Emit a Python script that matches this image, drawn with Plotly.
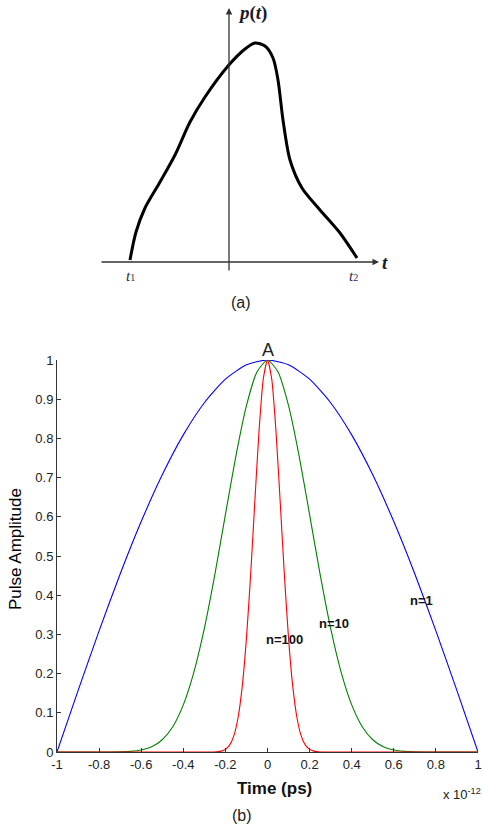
import plotly.graph_objects as go

# ---------- data for panel (b): pulse shapes (time in units of 1e-12 s) ----------
t_n1 = [-1.0, -0.9, -0.8, -0.7, -0.6, -0.5, -0.4, -0.3, -0.2, -0.1, 0.0,
        0.1, 0.2, 0.3, 0.4, 0.5, 0.6, 0.7, 0.8, 0.9, 1.0]
p_n1 = [0.0, 0.1564, 0.3090, 0.4540, 0.5878, 0.7071, 0.8090, 0.8910, 0.9511, 0.9877, 1.0,
        0.9877, 0.9511, 0.8910, 0.8090, 0.7071, 0.5878, 0.4540, 0.3090, 0.1564, 0.0]

t_n10 = [-1.0, -0.8, -0.7, -0.65, -0.6, -0.55, -0.5, -0.45, -0.4, -0.35, -0.3, -0.25, -0.2,
         -0.15, -0.1, -0.05, 0.0, 0.05, 0.1, 0.15, 0.2, 0.25, 0.3, 0.35, 0.4, 0.45, 0.5,
         0.55, 0.6, 0.65, 0.7, 0.8, 1.0]
p_n10 = [0.0, 0.0, 0.0004, 0.0015, 0.0049, 0.0134, 0.0313, 0.0646, 0.1201, 0.2031, 0.3153,
         0.4531, 0.6057, 0.7556, 0.8836, 0.9696, 1.0, 0.9696, 0.8836, 0.7556, 0.6057, 0.4531,
         0.3153, 0.2031, 0.1201, 0.0646, 0.0313, 0.0134, 0.0049, 0.0015, 0.0004, 0.0, 0.0]

t_n100 = [-1.0, -0.3, -0.24, -0.22, -0.2, -0.18, -0.16, -0.14, -0.12, -0.1, -0.08, -0.06,
          -0.04, -0.02, 0.0, 0.02, 0.04, 0.06, 0.08, 0.1, 0.12, 0.14, 0.16, 0.18, 0.2, 0.22,
          0.24, 0.3, 1.0]
p_n100 = [0.0, 0.0, 0.0007, 0.0023, 0.0066, 0.0174, 0.0411, 0.0874, 0.1674, 0.2898, 0.4531,
          0.6410, 0.8208, 0.9518, 1.0, 0.9518, 0.8208, 0.6410, 0.4531, 0.2898, 0.1674, 0.0874,
          0.0411, 0.0174, 0.0066, 0.0023, 0.0007, 0.0, 0.0]

x_ticks = [-1, -0.8, -0.6, -0.4, -0.2, 0, 0.2, 0.4, 0.6, 0.8, 1]
x_ticklabels = ["-1", "-0.8", "-0.6", "-0.4", "-0.2", "0", "0.2", "0.4", "0.6", "0.8", "1"]
y_ticks = [0, 0.1, 0.2, 0.3, 0.4, 0.5, 0.6, 0.7, 0.8, 0.9, 1]
y_ticklabels = ["0", "0.1", "0.2", "0.3", "0.4", "0.5", "0.6", "0.7", "0.8", "0.9", "1"]

# ---------- data for panel (a): schematic pulse (drawing units) ----------
sketch_x = [130, 136, 145, 160, 175, 190, 205, 228, 245, 255, 265, 273, 278, 283,
            290, 302, 320, 340, 357]
sketch_y = [260, 232, 208, 182, 155, 122, 97, 66, 49, 43, 46, 58, 80, 120,
            160, 188, 210, 233, 258]

W, H = 483, 828
fig = go.Figure()

# panel (b) curves
fig.add_trace(go.Scatter(x=t_n1, y=p_n1, mode="lines", line=dict(color="#0000ff", width=1.1, shape="spline", smoothing=0.6)))
fig.add_trace(go.Scatter(x=t_n10, y=p_n10, mode="lines", line=dict(color="#008000", width=1.1, shape="spline", smoothing=0.6)))
fig.add_trace(go.Scatter(x=t_n100, y=p_n100, mode="lines", line=dict(color="#ff0000", width=1.1, shape="spline", smoothing=0.6)))

# panel (a) curve (independent axes in drawing units)
fig.add_trace(go.Scatter(x=sketch_x, y=sketch_y, xaxis="x2", yaxis="y2", mode="lines",
                         line=dict(color="black", width=3, shape="spline", smoothing=0.8)))

sans = "Liberation Sans, Arial"
serif = "Liberation Serif, Times New Roman"
x0, x1 = 57, 478
ytop, ybot = 360, 752
fig.update_layout(
    width=W, height=H, showlegend=False,
    margin=dict(l=0, r=0, t=0, b=0, autoexpand=False),
    paper_bgcolor="white", plot_bgcolor="rgba(0,0,0,0)",
    xaxis=dict(domain=[x0 / W, x1 / W], range=[-1, 1], tickvals=x_ticks, ticktext=x_ticklabels,
               ticks="inside", ticklen=4, tickcolor="#333", showline=True, linecolor="#333",
               linewidth=1, showgrid=False, zeroline=False, automargin=False,
               tickfont=dict(family=sans, size=13, color="#222")),
    yaxis=dict(domain=[1 - ybot / H, 1 - ytop / H], range=[0, 1], tickvals=y_ticks, ticktext=y_ticklabels,
               ticks="inside", ticklen=4, tickcolor="#333", showline=True, linecolor="#333",
               linewidth=1, showgrid=False, zeroline=False, automargin=False,
               tickfont=dict(family=sans, size=13, color="#222")),
    xaxis2=dict(domain=[0, 1], range=[0, W], visible=False, anchor="y2", fixedrange=True, automargin=False),
    yaxis2=dict(domain=[0, 1], range=[H, 0], visible=False, anchor="x2", fixedrange=True, automargin=False),
)

def lab(x, y, text, size, family=sans, color="#222", **kw):
    d = dict(x=x, y=y, xref="x2", yref="y2", showarrow=False, text=text,
             font=dict(family=family, size=size, color=color))
    d.update(kw)
    return d

ann = []
# axes of schematic with arrows
ann.append(dict(x=379, y=262, ax=100, ay=262, xref="x2", yref="y2", axref="x2", ayref="y2",
                showarrow=True, arrowhead=2, arrowsize=1, arrowwidth=1.3, arrowcolor="#333", text=""))
ann.append(dict(x=229, y=8, ax=229, ay=272, xref="x2", yref="y2", axref="x2", ayref="y2",
                showarrow=True, arrowhead=2, arrowsize=1, arrowwidth=1.3, arrowcolor="#333", text=""))
ann.append(lab(236, 13, "<b><i>p</i>(<i>t</i>)</b>", 19, serif, "#1a1a2e", xanchor="left", yanchor="middle"))
ann.append(lab(380, 262, "<b><i>t</i></b>", 19, serif, "#1a1a2e", xanchor="left", yanchor="middle"))
ann.append(lab(124, 276, "<i>t</i><span style='font-size:10px'>1</span>", 15, serif, "#2a2a50", xanchor="left", yanchor="middle"))
ann.append(lab(347, 276, "<i>t</i><span style='font-size:10px'>2</span>", 15, serif, "#2a2a50", xanchor="left", yanchor="middle"))
ann.append(lab(241, 302, "(a)", 16))
# panel (b) labels
ann.append(lab(268, 350, "A", 18))
ann.append(lab(421, 600, "<b>n=1</b>", 13, color="#111"))
ann.append(lab(334, 623, "<b>n=10</b>", 13, color="#111"))
ann.append(lab(284, 639, "<b>n=100</b>", 13, color="#111"))
ann.append(lab(274, 788, "<b>Time (ps)</b>", 17, color="#111"))
ann.append(lab(15, 549, "Pulse Amplitude", 17, color="#000", textangle=-90))
ann.append(lab(441, 794, "x 10<sup>-12</sup>", 13, xanchor="left"))
ann.append(lab(242, 815, "(b)", 16))
fig.update_layout(annotations=ann)

fig.write_html("out.html", config={"displayModeBar": False},
               post_script="document.body.style.margin='0px';document.body.style.overflow='hidden';")
